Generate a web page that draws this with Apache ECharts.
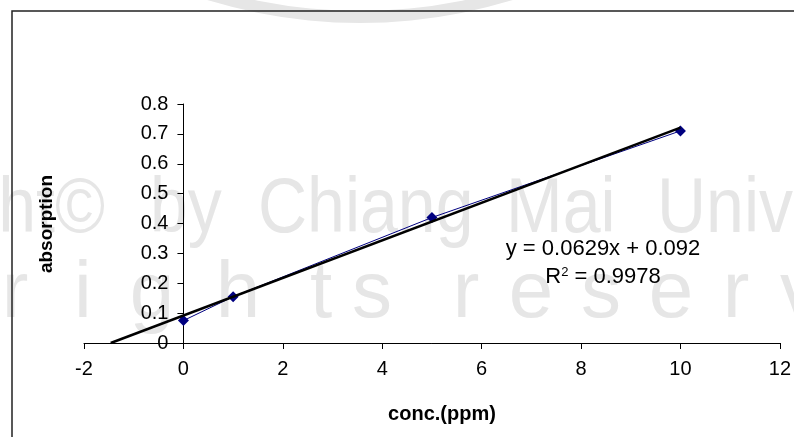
<!DOCTYPE html>
<html><head><meta charset="utf-8">
<script src="https://cdn.jsdelivr.net/npm/echarts@6/dist/echarts.min.js"></script>
<style>html,body{margin:0;padding:0;background:#fff}#c{width:794px;height:437px}</style>
</head><body><div id="c"></div>
<script>
const concPpm = [0, 1, 5, 10];
const absorption = [0.075, 0.155, 0.42, 0.71];
const slope = 0.0629;
const intercept = 0.092;
const equationText = 'y = 0.0629x + 0.092';
const r2Text = '0.9978';
const xAxisName = 'conc.(ppm)';
const yAxisName = 'absorption';
const xMin = -2, xMax = 12, xStep = 2;
const yMin = 0, yMax = 0.8, yStep = 0.1;

const F = '"Liberation Sans", Arial, sans-serif';
const trendStart = -intercept / slope;
const trendEnd = 10;
const trend = [[trendStart, 0], [trendEnd, slope * trendEnd + intercept]];

const W = 794, gridL = 84, gridR = 14;
// y axis crosses the x axis at x = 0
const yAxisOffset = -((0 - xMin) / (xMax - xMin)) * (W - gridL - gridR);

// faint scanned watermark (background decoration)
const WM = '#e6e6e6';
const wmFont = '68px "Liberation Sans", Arial, sans-serif';
const wmWords = [['ht\u00A9', 105, 'right'], ['by', 150, 'left'], ['Chiang', 258, 'left'], ['Mai', 506, 'left'], ['Univ', 657, 'left']];
const wmLetters = [['r', 15], ['i', 83], ['g', 152], ['h', 238], ['t', 321], ['s', 372], ['r', 466], ['e', 531], ['s', 601], ['e', 671], ['r', 736], ['v', 800]];
const wmGraphics = [
  { type: 'ring', z: -30, silent: true, shape: { cx: 360, cy: -497, r: 520, r0: 508 }, style: { fill: WM } }
];
wmWords.forEach(([t, x, a]) => wmGraphics.push({ type: 'text', z: -20, silent: true, x: x, y: 250, scaleY: 1.15,
  style: { text: t, font: wmFont, fill: WM, align: a, verticalAlign: 'bottom' } }));
wmLetters.forEach(([t, x]) => wmGraphics.push({ type: 'text', z: -20, silent: true, x: x, y: 335,
  style: { text: t, font: '80px "Liberation Sans", Arial, sans-serif', fill: WM, align: 'center', verticalAlign: 'bottom' } }));

const chart = echarts.init(document.getElementById('c'));
chart.setOption({
  animation: false,
  backgroundColor: '#fff',
  grid: { left: gridL, right: gridR, top: 104, bottom: 94 },
  xAxis: {
    type: 'value', min: xMin, max: xMax, interval: xStep,
    axisLine: { onZero: true, lineStyle: { color: '#000', width: 1 } },
    axisTick: { show: true, length: 6, lineStyle: { color: '#000' } },
    axisLabel: { color: '#000', fontSize: 20, fontFamily: F, margin: 16 },
    splitLine: { show: false }
  },
  yAxis: {
    type: 'value', min: yMin, max: yMax, interval: yStep,
    offset: yAxisOffset,
    axisLine: { show: true, onZero: false, lineStyle: { color: '#000', width: 1 } },
    axisTick: { show: true, length: 6, lineStyle: { color: '#000' } },
    axisLabel: { color: '#000', fontSize: 20, fontFamily: F, margin: 15 },
    splitLine: { show: false }
  },
  graphic: wmGraphics.concat([
    { type: 'rect', z: -10, silent: true, shape: { x: 12, y: 11, width: 900, height: 600 },
      style: { fill: 'none', stroke: '#222', lineWidth: 1.5 } },
    { type: 'text', silent: true, x: 47, y: 224, rotation: Math.PI / 2,
      style: { text: yAxisName, font: 'bold 19px ' + F, fill: '#000', align: 'center', verticalAlign: 'middle' } },
    { type: 'text', silent: true, x: 442, y: 414,
      style: { text: xAxisName, font: 'bold 20px ' + F, fill: '#000', align: 'center', verticalAlign: 'middle' } },
    { type: 'text', silent: true, x: 603, y: 249,
      style: { text: equationText, font: '22px ' + F, fill: '#000', align: 'center', verticalAlign: 'middle' } },
    { type: 'text', silent: true, x: 603, y: 277,
      style: { text: 'R{s|2} = ' + r2Text, font: '22px ' + F, fill: '#000', align: 'center', verticalAlign: 'middle',
        rich: { s: { fontSize: 13, fontFamily: F, verticalAlign: 'top', padding: [0, 0, 9, 0] } } } }
  ]),
  series: [
    { type: 'line', data: concPpm.map((x, i) => [x, absorption[i]]),
      symbol: 'diamond', symbolSize: 11, itemStyle: { color: '#000080' },
      lineStyle: { color: '#000080', width: 1 }, z: 3 },
    { type: 'line', data: trend, symbol: 'none', lineStyle: { color: '#000', width: 2.5 }, z: 4 }
  ]
});
</script></body></html>
